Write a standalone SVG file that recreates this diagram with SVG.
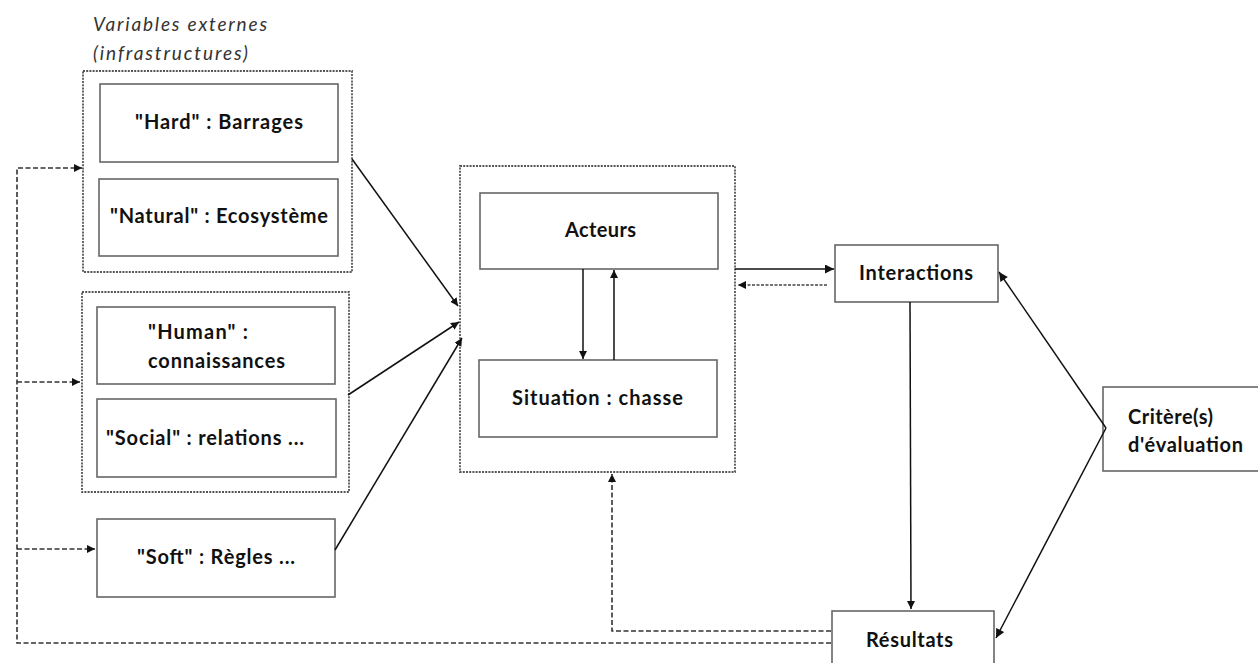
<svg xmlns="http://www.w3.org/2000/svg" width="1258" height="663" viewBox="0 0 1258 663">
<style>
.bg{fill:#ffffff}
.box{fill:#ffffff;stroke:#666;stroke-width:1.6}
.grp{fill:none;stroke:#555;stroke-width:1.8;stroke-dasharray:2 1.2}
.lbl{font-family:Lato,"Liberation Sans",sans-serif;font-weight:bold;font-size:20px;fill:#111}
.ttl{font-family:Lato,"Liberation Sans",sans-serif;font-style:italic;font-size:19px;fill:#333}
.ln{fill:none;stroke:#111;stroke-width:1.5}
.dsh{fill:none;stroke:#333;stroke-width:1.6;stroke-dasharray:5 2.5}
.dot{fill:none;stroke:#444;stroke-width:1.6;stroke-dasharray:3 1.5}
</style>
<defs>
<marker id="ah" viewBox="0 0 10 10" refX="10" refY="5" markerWidth="8" markerHeight="8" markerUnits="userSpaceOnUse" orient="auto">
<path d="M0,0 L10,5 L0,10 z" fill="#111"/>
</marker>
<marker id="ahl" viewBox="0 0 10 10" refX="10" refY="5" markerWidth="10" markerHeight="9" markerUnits="userSpaceOnUse" orient="auto">
<path d="M0,0 L10,5 L0,10 z" fill="#111"/>
</marker>
</defs>
<rect class="bg" x="0" y="0" width="1258" height="663"/>

<g id="title">
<text class="ttl" x="93" y="31" textLength="174" lengthAdjust="spacing">Variables externes</text>
<text class="ttl" x="93" y="60" textLength="155" lengthAdjust="spacing">(infrastructures)</text>
</g>

<g id="group-infra">
<rect class="grp" x="83" y="71" width="269" height="201"/>
</g>
<g id="hard">
<rect class="box" x="100" y="84" width="238" height="78"/>
<text class="lbl" x="219" y="129" text-anchor="middle" textLength="168" lengthAdjust="spacing">"Hard" : Barrages</text>
</g>
<g id="natural">
<rect class="box" x="99" y="179" width="239" height="77"/>
<text class="lbl" x="219" y="223" text-anchor="middle" textLength="218" lengthAdjust="spacing">"Natural" : Ecosystème</text>
</g>

<g id="group-human-social">
<rect class="grp" x="82" y="292" width="267" height="200"/>
</g>
<g id="human">
<rect class="box" x="97" y="307" width="238" height="77"/>
<text class="lbl" x="148" y="339" textLength="100" lengthAdjust="spacing">"Human" :</text>
<text class="lbl" x="148" y="368" textLength="137" lengthAdjust="spacing">connaissances</text>
</g>
<g id="social">
<rect class="box" x="97" y="399" width="239" height="78"/>
<text class="lbl" x="106" y="445" textLength="198" lengthAdjust="spacing">"Social" : relations ...</text>
</g>
<g id="soft">
<rect class="box" x="97" y="519" width="238" height="78"/>
<text class="lbl" x="216" y="564" text-anchor="middle" textLength="158" lengthAdjust="spacing">"Soft" : Règles ...</text>
</g>

<g id="group-center">
<rect class="grp" x="460" y="166" width="275" height="306"/>
</g>
<g id="acteurs">
<rect class="box" x="480" y="193" width="238" height="76"/>
<text class="lbl" x="600.5" y="237" text-anchor="middle" textLength="71" lengthAdjust="spacing">Acteurs</text>
</g>
<g id="situation">
<rect class="box" x="479" y="360" width="238" height="77"/>
<text class="lbl" x="597.5" y="405" text-anchor="middle" textLength="171" lengthAdjust="spacing">Situation : chasse</text>
</g>

<g id="interactions">
<rect class="box" x="835" y="245" width="163" height="57"/>
<text class="lbl" x="916" y="280" text-anchor="middle" textLength="114" lengthAdjust="spacing">Interactions</text>
</g>
<g id="resultats">
<rect class="box" x="832" y="611" width="162" height="70"/>
<text class="lbl" x="909.5" y="647" text-anchor="middle" textLength="87" lengthAdjust="spacing">Résultats</text>
</g>
<g id="criteres">
<rect class="box" x="1103" y="387" width="200" height="84"/>
<text class="lbl" x="1128" y="424" textLength="85" lengthAdjust="spacing">Critère(s)</text>
<text class="lbl" x="1128" y="452" textLength="115" lengthAdjust="spacing">d'évaluation</text>
</g>

<g id="connectors">
<line class="ln" x1="352" y1="159" x2="458" y2="306" marker-end="url(#ah)"/>
<line class="ln" x1="348" y1="395" x2="459" y2="322" marker-end="url(#ah)"/>
<line class="ln" x1="335" y1="550" x2="462" y2="338" marker-end="url(#ah)"/>
<line class="ln" x1="583" y1="269" x2="583" y2="359" marker-end="url(#ah)"/>
<line class="ln" x1="614" y1="360" x2="614" y2="270" marker-end="url(#ah)"/>
<line class="ln" x1="735" y1="269" x2="834" y2="269" marker-end="url(#ahl)"/>
<line class="dot" x1="827" y1="285" x2="738" y2="285" marker-end="url(#ah)"/>
<line class="ln" x1="910" y1="302" x2="911" y2="609" marker-end="url(#ah)"/>
<line class="ln" x1="1106" y1="428" x2="999" y2="272" marker-end="url(#ahl)"/>
<line class="ln" x1="1106" y1="428" x2="996" y2="638" marker-end="url(#ahl)"/>
<path class="dsh" d="M831,631 L612,631 L612,474" marker-end="url(#ah)"/>
<path class="dsh" d="M831,643 L17,643 L17,168 L82,168" marker-end="url(#ah)"/>
<line class="dsh" x1="17" y1="382" x2="80" y2="382" marker-end="url(#ah)"/>
<line class="dsh" x1="17" y1="549" x2="95" y2="549" marker-end="url(#ah)"/>
</g>
</svg>
